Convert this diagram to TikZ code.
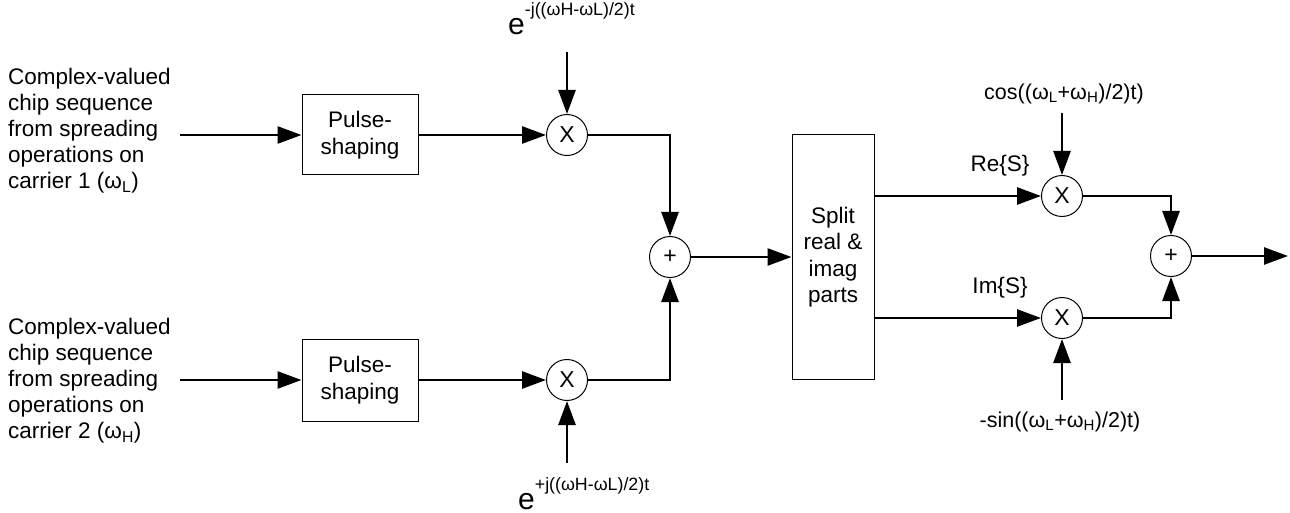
\documentclass[tikz,border=0pt]{standalone}
\usepackage{fontspec}
\setmainfont{Liberation Sans}
\usetikzlibrary{arrows.meta}
\begin{document}
\begin{tikzpicture}[x=1pt,y=-1pt,
  lbl/.style={inner sep=0pt, font=\fontsize{22.5}{26}\selectfont},
  blk/.style={draw, line width=1pt, align=center, inner sep=0pt, font=\fontsize{22.5}{27}\selectfont},
  mix/.style={draw, circle, line width=1pt, minimum size=41pt, inner sep=0pt, font=\fontsize{23}{23}\selectfont},
  summ/.style={mix, font=\fontsize{23}{23}\selectfont},
  sig/.style={line width=2.6pt, -{Triangle[length=24pt,width=17pt]}, line join=miter}
]
\useasboundingbox (0,0) rectangle (1290,513);

% blocks
\node[blk, minimum width=116pt, minimum height=80pt] (ps1) at (360,135) {Pulse-\\shaping};
\node[blk, minimum width=116pt, minimum height=82pt] (ps2) at (360,380) {Pulse-\\shaping};
\node[blk, minimum width=82pt, minimum height=245pt, font=\fontsize{22.5}{26.5}\selectfont] (sp) at (833,257) {Split\\real \&\\imag\\parts};

% mixers and summers
\node[mix] (m1) at (567,135) {X};
\node[mix] (m2) at (567,380) {X};
\node[summ] (s1) at (670,257) {+};
\node[mix] (m3) at (1062,196) {X};
\node[mix] (m4) at (1062,318) {X};
\node[summ] (s2) at (1171,256) {+};

% free ends
\coordinate (in1) at (180,135);
\coordinate (in2) at (180,380);
\coordinate (lo1) at (567,52);
\coordinate (lo2) at (567,463);
\coordinate (c3) at (1062,113);
\coordinate (c4) at (1062,400);
\coordinate (out) at (1288,256);

% texts
\node[lbl, anchor=west, align=left] (t1) at (8,131) {Complex-valued\\chip sequence\\from spreading\\operations on\\carrier 1 (ω\textsubscript{L})};
\node[lbl, anchor=west, align=left] (t2) at (8,381) {Complex-valued\\chip sequence\\from spreading\\operations on\\carrier 2 (ω\textsubscript{H})};

\node[inner sep=0pt, anchor=base west] (e1) at (508,35) {\fontsize{30}{30}\selectfont e\raisebox{19pt}{\fontsize{17.8}{18}\selectfont -j((ωH-ωL)/2)t}};
\node[inner sep=0pt, anchor=base west] (e2) at (518,509) {\fontsize{30}{30}\selectfont e\raisebox{19pt}{\fontsize{17.8}{18}\selectfont +j((ωH-ωL)/2)t}};

\node[lbl, font=\fontsize{21.5}{24}\selectfont] (cl) at (1064,94) {cos((ω\textsubscript{L}+ω\textsubscript{H})/2)t)};
\node[lbl, font=\fontsize{21.5}{24}\selectfont] (sl) at (1060,422) {-sin((ω\textsubscript{L}+ω\textsubscript{H})/2)t)};
\node[lbl] (re) at (1000,166) {Re\{S\}};
\node[lbl] (im) at (1000,288) {Im\{S\}};

% connectors
\draw[sig] (in1) -- (ps1.west);
\draw[sig] (in2) -- (ps2.west);
\draw[sig] (ps1) -- (m1);
\draw[sig] (ps2) -- (m2);
\draw[sig] (lo1) -- (m1);
\draw[sig] (lo2) -- (m2);
\draw[sig] (m1) -| (s1);
\draw[sig] (m2) -| (s1);
\draw[sig] (s1) -- (sp);
\draw[sig] (sp.east |- m3) -- (m3);
\draw[sig] (sp.east |- m4) -- (m4);
\draw[sig] (c3) -- (m3);
\draw[sig] (c4) -- (m4);
\draw[sig] (m3) -| (s2);
\draw[sig] (m4) -| (s2);
\draw[sig] (s2) -- (out);
\end{tikzpicture}
\end{document}
